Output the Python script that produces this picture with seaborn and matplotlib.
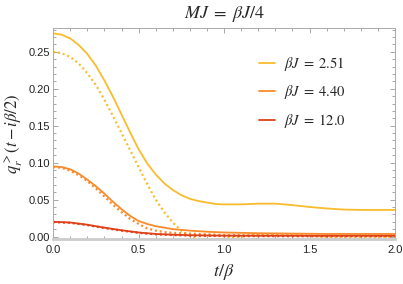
import matplotlib
matplotlib.use('Agg')
import matplotlib.pyplot as plt
from matplotlib.ticker import MultipleLocator, FormatStrFormatter
import seaborn as sns
import pandas as pd

# --- data ---
t_251 = [0, .05, .1, .15, .2, .25, .3, .35, .4, .45, .5, .55, .6, .65, .7, .75, .8, .85, .9, .95,
         1.0, 1.1, 1.2, 1.3, 1.4, 1.5, 1.6, 1.7, 1.8, 1.9, 2.0]
solid_251 = [.275, .273, .268, .259, .247, .231, .211, .189, .165, .141, .118, .099, .084, .072, .063,
             .056, .051, .048, .046, .044, .0435, .0435, .0445, .0445, .0425, .040, .038, .0365, .036,
             .036, .036]
dotted_251 = [.250, .248, .243, .234, .221, .205, .185, .163, .140, .117, .094, .071, .050, .033, .019,
              .008, .001, -.003, -.004, -.004, -.003, 0.0, .003, .0035, .003, .001, -.001, -.002, -.002,
              -.001, 0.0]

t_440 = [0, .05, .1, .15, .2, .25, .3, .35, .4, .45, .5, .55, .6, .65, .7, .8, .9, 1.0, 1.2, 1.4,
         1.6, 1.8, 2.0]
solid_440 = [.095, .094, .091, .085, .077, .068, .058, .047, .037, .028, .021, .017, .014, .012, .010,
             .008, .0065, .0055, .0045, .004, .0035, .0035, .0035]
dotted_440 = [.094, .093, .089, .083, .075, .065, .054, .043, .033, .024, .017, .011, .008, .006, .005,
              .004, .003, .002, .0015, .0012, .001, .001, .001]

t_120 = [0, .1, .2, .3, .4, .5, .6, .7, .8, 1.0, 1.5, 2.0]
solid_120 = [.020, .019, .016, .012, .0085, .0055, .0035, .0025, .0018, .0012, .001, .001]
dotted_120 = [.0195, .0185, .0155, .0115, .008, .005, .003, .002, .0013, .0007, .0004, .0004]

labels = [r"$\beta J\;=\;2.51$", r"$\beta J\;=\;4.40$", r"$\beta J\;=\;12.0$"]
colors = ["#F9BC2C", "#F98B2A", "#E04018"]

sns.set_theme(style="ticks")
plt.rcParams['font.family'] = ['Liberation Sans', 'DejaVu Sans']
plt.rcParams['mathtext.fontset'] = 'stix'

fig = plt.figure(figsize=(4.03, 2.84), dpi=100)
ax = fig.add_axes([0.132, 0.158, 0.848, 0.743])

series = [(t_251, solid_251, dotted_251), (t_440, solid_440, dotted_440), (t_120, solid_120, dotted_120)]
handles = []
for (t, s, d), c, lab in zip(series, colors, labels):
    df = pd.DataFrame({"t": t, "solid": s, "dotted": d})
    sns.lineplot(data=df, x="t", y="dotted", ax=ax, color=c, lw=1.6,
                 linestyle=(0, (0.9, 1.3)), estimator=None, sort=False)
    sns.lineplot(data=df, x="t", y="solid", ax=ax, color=c, lw=1.3,
                 estimator=None, sort=False)
    handles.append(ax.lines[-1])

ax.set_xlim(0, 2)
ax.set_ylim(-0.0035, 0.282)
ax.xaxis.set_major_locator(MultipleLocator(0.5))
ax.xaxis.set_minor_locator(MultipleLocator(0.1))
ax.yaxis.set_major_locator(MultipleLocator(0.05))
ax.yaxis.set_minor_locator(MultipleLocator(0.01))
ax.xaxis.set_major_formatter(FormatStrFormatter('%.1f'))
ax.yaxis.set_major_formatter(FormatStrFormatter('%.2f'))
ax.tick_params(which='both', direction='in', top=True, right=True, color='#999999',
               labelsize=8, labelcolor='#222222', width=0.6)
ax.tick_params(which='major', length=3.5)
ax.tick_params(which='minor', length=2)
ax.tick_params(axis='y', pad=2)
ax.tick_params(axis='x', pad=4)
for side in ['left', 'right', 'top']:
    ax.spines[side].set_color('#aaaaaa')
    ax.spines[side].set_linewidth(0.7)
ax.spines['bottom'].set_color('#cccccc')
ax.spines['bottom'].set_linewidth(2.0)

ax.set_xlabel(r"$t/\beta$", fontsize=13, labelpad=5)
ax.set_ylabel(r"$q_r^{>}(t - i\beta/2)$", fontsize=12, labelpad=3)
ax.set_title(r"$MJ\;=\;\beta J/4$", fontsize=13, pad=7)

ax.legend(handles, labels, loc='upper right', bbox_to_anchor=(0.895, 0.935), frameon=False,
          fontsize=10.5, handlelength=1.1, handletextpad=0.6, labelspacing=0.72)

fig.savefig("out.png", dpi=100)
